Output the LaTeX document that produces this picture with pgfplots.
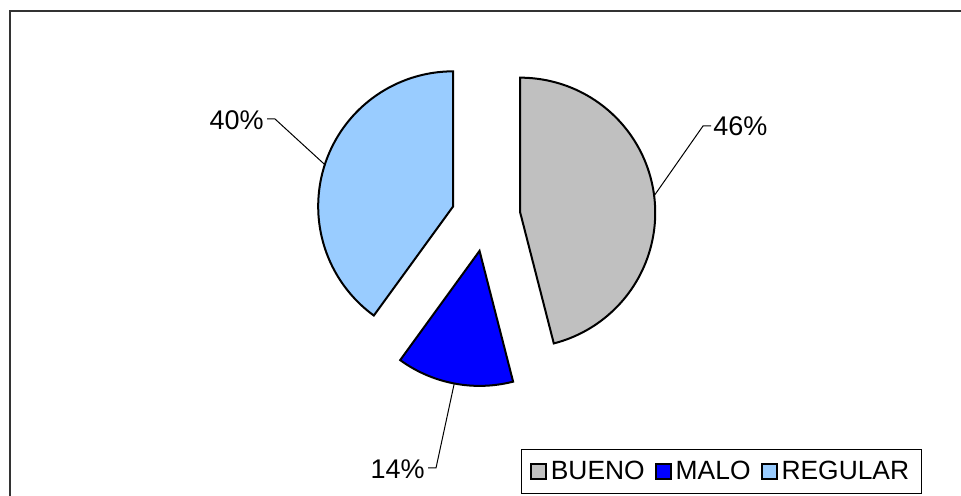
\documentclass[border=0pt]{standalone}
\usepackage{pgfplots}
\pgfplotsset{compat=1.18}
\usepackage{fontspec}
\setmainfont{Liberation Sans}
\definecolor{cBueno}{HTML}{C0C0C0}
\definecolor{cMalo}{HTML}{0000FF}
\definecolor{cRegular}{HTML}{99CCFF}
\begin{document}
\begin{tikzpicture}
% data (percent)
\def\vB{46}\def\vM{14}\def\vR{40}
\def\R{135}\def\cx{486}\def\cy{279}\def\dx{34.5}
\pgfmathsetmacro\aB{90-3.6*\vB}
\pgfmathsetmacro\aM{\aB-3.6*\vM}
\pgfmathsetmacro\aR{\aM-3.6*\vR}
\pgfmathsetmacro\mB{(90+\aB)/2}
\pgfmathsetmacro\mM{(\aB+\aM)/2}
\pgfmathsetmacro\mR{(\aM+\aR)/2}
\pgfmathsetmacro\xB{\cx+\dx*cos(\mB)}\pgfmathsetmacro\yB{\cy+\dx*sin(\mB)}
\pgfmathsetmacro\xM{\cx+\dx*cos(\mM)}\pgfmathsetmacro\yM{\cy+\dx*sin(\mM)}
\pgfmathsetmacro\xR{\cx+\dx*cos(\mR)}\pgfmathsetmacro\yR{\cy+\dx*sin(\mR)}
\pgfmathsetmacro\lxB{\xB+\R*cos(\mB)}\pgfmathsetmacro\lyB{\yB+\R*sin(\mB)}
\pgfmathsetmacro\lxM{\xM+\R*cos(\mM)}\pgfmathsetmacro\lyM{\yM+\R*sin(\mM)}
\pgfmathsetmacro\lxR{\xR+\R*cos(\mR)}\pgfmathsetmacro\lyR{\yR+\R*sin(\mR)}
\begin{axis}[
  x=0.5pt, y=0.5pt,
  xmin=0, xmax=961, ymin=0, ymax=496,
  hide axis, clip=false,
  legend columns=3,
  legend style={at={(axis cs:721.5,24.5)}, anchor=center,
    draw=black, line width=0.5pt, font=\fontsize{13.2}{15}\selectfont,
    inner xsep=4pt, inner ysep=4.5pt,
    nodes={inner xsep=2pt, inner ysep=1pt},
    /tikz/every even column/.append style={column sep=3pt}},
  legend image code/.code={\draw[#1, draw=black, line width=1pt] (0pt,-3.75pt) rectangle (7.5pt,3.75pt);},
]
% frame (top and left)
\addplot[draw=black!80, line width=0.75pt, forget plot] coordinates {(10,0) (10,485) (961,485)};
% slices
\addplot[fill=cBueno, draw=black, line width=1pt, domain=\aB:90, samples=90, variable=\t]
  ({\xB+\R*cos(\t)},{\yB+\R*sin(\t)}) -- (axis cs:\xB,\yB) -- cycle;
\addlegendentry{BUENO}
\addplot[fill=cMalo, draw=black, line width=1pt, domain=\aM:\aB, samples=40, variable=\t]
  ({\xM+\R*cos(\t)},{\yM+\R*sin(\t)}) -- (axis cs:\xM,\yM) -- cycle;
\addlegendentry{MALO}
\addplot[fill=cRegular, draw=black, line width=1pt, domain=\aR:\aM, samples=90, variable=\t]
  ({\xR+\R*cos(\t)},{\yR+\R*sin(\t)}) -- (axis cs:\xR,\yR) -- cycle;
\addlegendentry{REGULAR}
% leader lines
\addplot[black, line width=0.5pt, forget plot] coordinates {(\lxB,\lyB) (703,370) (711,370)};
\addplot[black, line width=0.5pt, forget plot] coordinates {(\lxR,\lyR) (275,377) (267,377)};
\addplot[black, line width=0.5pt, forget plot] coordinates {(\lxM,\lyM) (436,28) (428,28)};
\node[anchor=west, inner sep=0pt, font=\fontsize{13.5}{15}\selectfont] at (axis cs:713,370) {\vB\%};
\node[anchor=east, inner sep=0pt, font=\fontsize{13.5}{15}\selectfont] at (axis cs:264,376) {\vR\%};
\node[anchor=east, inner sep=0pt, font=\fontsize{13.5}{15}\selectfont] at (axis cs:425,27) {\vM\%};
\end{axis}
\pgfresetboundingbox
\path[use as bounding box] (0,0) rectangle (480.5pt,248pt);
\end{tikzpicture}
\end{document}
